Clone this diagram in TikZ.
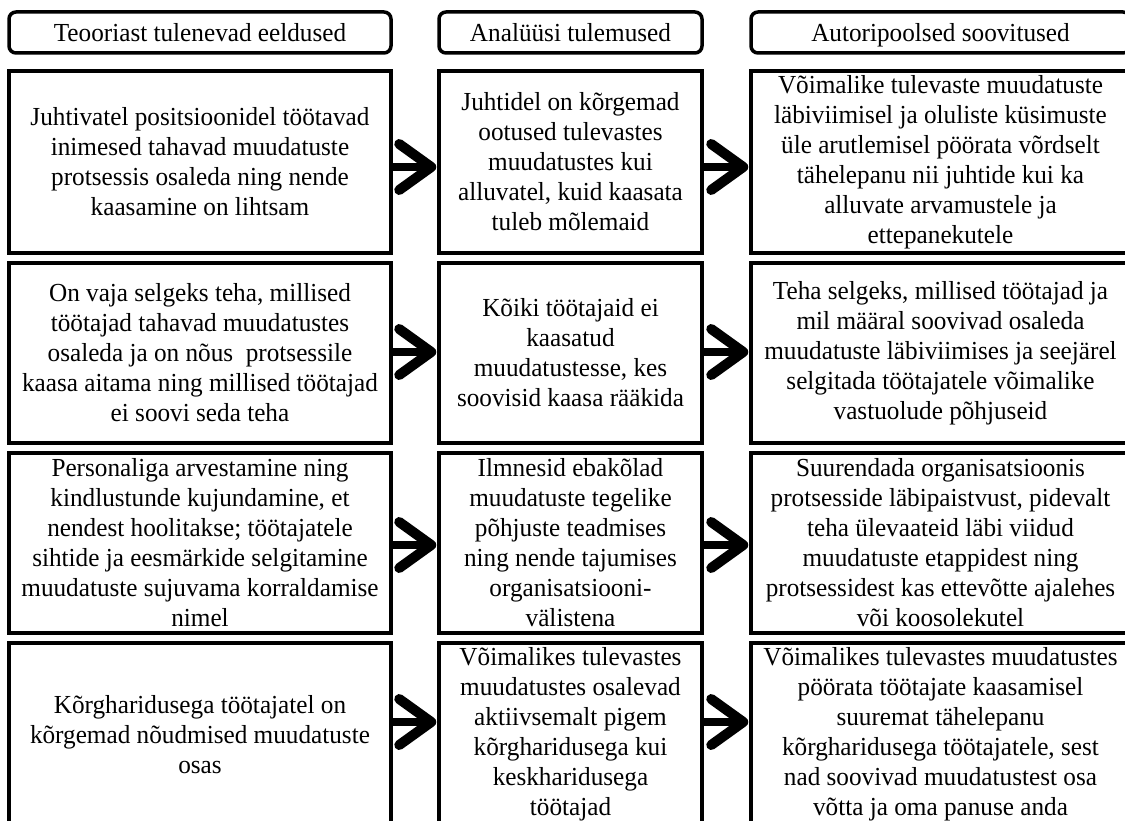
\documentclass[tikz,border=0pt]{standalone}
\usepackage{fontspec}
\setmainfont{Liberation Serif}[FakeStretch=0.97]
\usetikzlibrary{calc}
\begin{document}
\begin{tikzpicture}[x=1pt,y=-1pt,
  box/.style={draw, line width=3.5pt, align=center, inner sep=0pt,
    font=\fontsize{26}{30}\selectfont},
  cola/.style={box, minimum width=382pt},
  colb/.style={box, minimum width=263pt},
  colc/.style={box, minimum width=379pt},
  hdr/.style={rounded corners=7pt, minimum height=41pt, text height=19pt, text depth=0pt},
  shaft/.style={line width=8pt},
  barb/.style={line width=10pt, line cap=round, line join=round}]
\useasboundingbox (0,0) rectangle (1125,821);
\clip (0,0) rectangle (1125,821);
% headers
\node[cola,hdr] (h1) at (200,32.5) {Teooriast tulenevad eeldused};
\node[colb,hdr] (h2) at (570.5,32.5) {Analüüsi tulemused};
\node[colc,hdr] (h3) at (940.5,32.5) {Autoripoolsed soovitused};
% row 1
\node[cola, minimum height=182pt] (r1c1) at (200,162) {Juhtivatel positsioonidel töötavad\\inimesed tahavad muudatuste\\protsessis osaleda ning nende\\kaasamine on lihtsam};
\node[colb, minimum height=182pt] (r1c2) at (570.5,162) {Juhtidel on kõrgemad\\ootused tulevastes\\muudatustes kui\\alluvatel, kuid kaasata\\tuleb mõlemaid};
\node[colc, minimum height=182pt] (r1c3) at (940.5,162) {Võimalike tulevaste muudatuste\\läbiviimisel ja oluliste küsimuste\\üle arutlemisel pöörata võrdselt\\tähelepanu nii juhtide kui ka\\alluvate arvamustele ja\\ettepanekutele};
% row 2
\node[cola, minimum height=180pt] (r2c1) at (200,353) {On vaja selgeks teha, millised\\töötajad tahavad muudatustes\\osaleda ja on nõus\ \ protsessile\\kaasa aitama ning millised töötajad\\ei soovi seda teha};
\node[colb, minimum height=180pt] (r2c2) at (570.5,353) {Kõiki töötajaid ei\\kaasatud\\muudatustesse, kes\\soovisid kaasa rääkida};
\node[colc, minimum height=180pt] (r2c3) at (940.5,353) {Teha selgeks, millised töötajad ja\\mil määral soovivad osaleda\\muudatuste läbiviimises ja seejärel\\selgitada töötajatele võimalike\\vastuolude põhjuseid};
% row 3
\node[cola, minimum height=180pt] (r3c1) at (200,543) {Personaliga arvestamine ning\\kindlustunde kujundamine, et\\nendest hoolitakse; töötajatele\\sihtide ja eesmärkide selgitamine\\muudatuste sujuvama korraldamise\\nimel};
\node[colb, minimum height=180pt] (r3c2) at (570.5,543) {Ilmnesid ebakõlad\\muudatuste tegelike\\põhjuste teadmises\\ning nende tajumises\\organisatsiooni-\\välistena};
\node[colc, minimum height=180pt] (r3c3) at (940.5,543) {Suurendada organisatsioonis\\protsesside läbipaistvust, pidevalt\\teha ülevaateid läbi viidud\\muudatuste etappidest ning\\protsessidest kas ettevõtte ajalehes\\või koosolekutel};
% row 4
\node[cola, minimum height=183pt] (r4c1) at (200,734.5) {Kõrgharidusega töötajatel on\\kõrgemad nõudmised muudatuste\\osas};
\node[colb, minimum height=183pt] (r4c2) at (570.5,734.5) {Võimalikes tulevastes\\muudatustes osalevad\\aktiivsemalt pigem\\kõrgharidusega kui\\keskharidusega\\töötajad};
\node[colc, minimum height=183pt] (r4c3) at (940.5,734.5) {Võimalikes tulevastes muudatustes\\pöörata töötajate kaasamisel\\suuremat tähelepanu\\kõrgharidusega töötajatele, sest\\nad soovivad muudatustest osa\\võtta ja oma panuse anda};
% arrow levels
\coordinate (ay1) at (0,167);
\coordinate (ay2) at (0,352);
\coordinate (ay3) at (0,545);
\coordinate (ay4) at (0,722);
\foreach \r in {1,2,3,4}{
  \foreach \a/\b in {1/2,2/3}{
    \draw[shaft] (r\r c\a.east |- ay\r) -- ($(r\r c\b.west |- ay\r)+(-6,0)$);
    \draw[barb] ($(r\r c\b.west |- ay\r)+(-38,-23)$) -- ($(r\r c\b.west |- ay\r)+(-6,0)$) -- ($(r\r c\b.west |- ay\r)+(-38,23)$);
  }
}
\end{tikzpicture}
\end{document}
